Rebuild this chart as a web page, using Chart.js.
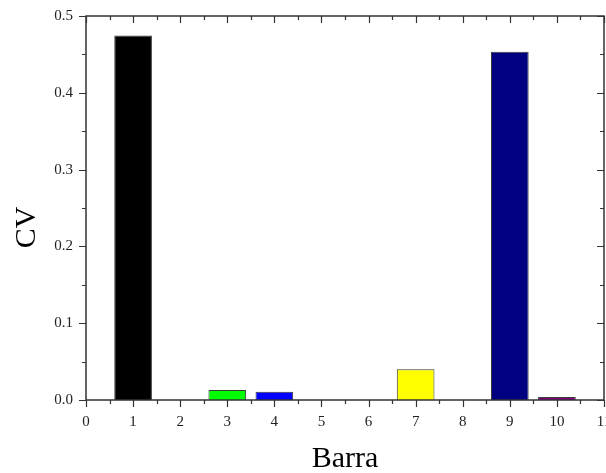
<!DOCTYPE html>
<html>
<head>
<meta charset="utf-8">
<script src="https://cdn.jsdelivr.net/npm/chart.js@4.4.1/dist/chart.umd.min.js"></script>
<style>
  html, body { margin: 0; padding: 0; background: #fff; }
  canvas { display: block; }
</style>
</head>
<body>
<canvas id="cvChart" width="606" height="473"></canvas>
<script>
// Coefficient of variation per bar
const barra = [1, 3, 4, 7, 9, 10];
const cv = [0.4745, 0.0130, 0.0108, 0.0400, 0.4533, 0.0039];
const barColors = ['#000000', '#00ff00', '#0000ff', '#ffff00', '#000080', '#800080'];

// Axis ranges and tick steps
const xRange = [0, 11];
const xStep = 1;
const yRange = [0, 0.5];
const yStep = 0.1;

const xTitle = 'Barra';
const yTitle = 'CV';

const serif = '"Liberation Serif", "Times New Roman", serif';
const axisColor = '#333333';

// Draws the boxed frame with major/minor ticks (outward on bottom/left, inward on top/right)
const framePlugin = {
  id: 'frame',
  afterDraw(chart) {
    const { ctx, chartArea: a } = chart;
    const xs = chart.scales.x, ys = chart.scales.y;
    const major = 7, minor = 4;
    ctx.save();
    ctx.strokeStyle = axisColor;
    ctx.lineWidth = 1.5;
    ctx.strokeRect(a.left, a.top, a.right - a.left, a.bottom - a.top);
    ctx.lineWidth = 1.2;
    ctx.beginPath();
    for (let v = xRange[0]; v <= xRange[1] + 1e-9; v += xStep / 2) {
      const isMajor = Math.abs(v - Math.round(v / xStep) * xStep) < 1e-9;
      const len = isMajor ? major : minor;
      const px = Math.round(xs.getPixelForValue(v)) + 0.5;
      ctx.moveTo(px, a.bottom); ctx.lineTo(px, a.bottom + len);
      ctx.moveTo(px, a.top); ctx.lineTo(px, a.top + len);
    }
    for (let i = 0; i <= Math.round((yRange[1] - yRange[0]) / (yStep / 2)); i++) {
      const v = yRange[0] + i * yStep / 2;
      const len = i % 2 === 0 ? major : minor;
      const py = Math.round(ys.getPixelForValue(v)) + 0.5;
      ctx.moveTo(a.left, py); ctx.lineTo(a.left - len, py);
      ctx.moveTo(a.right, py); ctx.lineTo(a.right - len, py);
    }
    ctx.stroke();

    // Axis titles
    ctx.fillStyle = '#000';
    ctx.font = '30px ' + serif;
    ctx.textAlign = 'center';
    ctx.textBaseline = 'alphabetic';
    ctx.fillText(xTitle, (a.left + a.right) / 2, 467);
    ctx.translate(35, 227.5);
    ctx.rotate(-Math.PI / 2);
    ctx.fillText(yTitle, 0, 0);
    ctx.restore();
  }
};

new Chart(document.getElementById('cvChart'), {
  type: 'bar',
  data: {
    datasets: [{
      data: barra.map((b, i) => ({ x: b, y: cv[i] })),
      backgroundColor: barColors,
      borderColor: '#3a3a3a',
      borderWidth: 1,
      barPercentage: 0.8,
      categoryPercentage: 1.0
    }]
  },
  options: {
    responsive: false,
    animation: false,
    layout: { padding: { top: 16, right: 2, left: 0, bottom: 0 } },
    plugins: { legend: { display: false }, tooltip: { enabled: false } },
    scales: {
      x: {
        type: 'linear',
        offset: false,
        min: xRange[0],
        max: xRange[1],
        grid: { display: false, drawTicks: false, offset: false },
        border: { display: false },
        ticks: {
          stepSize: xStep,
          padding: 13,
          color: '#222',
          font: { family: serif, size: 15 },
          maxRotation: 0,
          autoSkip: false,
          callback: v => String(v)
        },
        afterFit(s) { s.height = 73; s.paddingLeft = 0; s.paddingRight = 0; }
      },
      y: {
        min: yRange[0],
        max: yRange[1],
        grid: { display: false, drawTicks: false },
        border: { display: false },
        ticks: {
          stepSize: yStep,
          padding: 13,
          color: '#222',
          font: { family: serif, size: 15 },
          callback: v => Number(v).toFixed(1)
        },
        afterFit(s) { s.width = 86; s.paddingTop = 0; s.paddingBottom = 0; }
      }
    }
  },
  plugins: [framePlugin]
});
</script>
</body>
</html>
